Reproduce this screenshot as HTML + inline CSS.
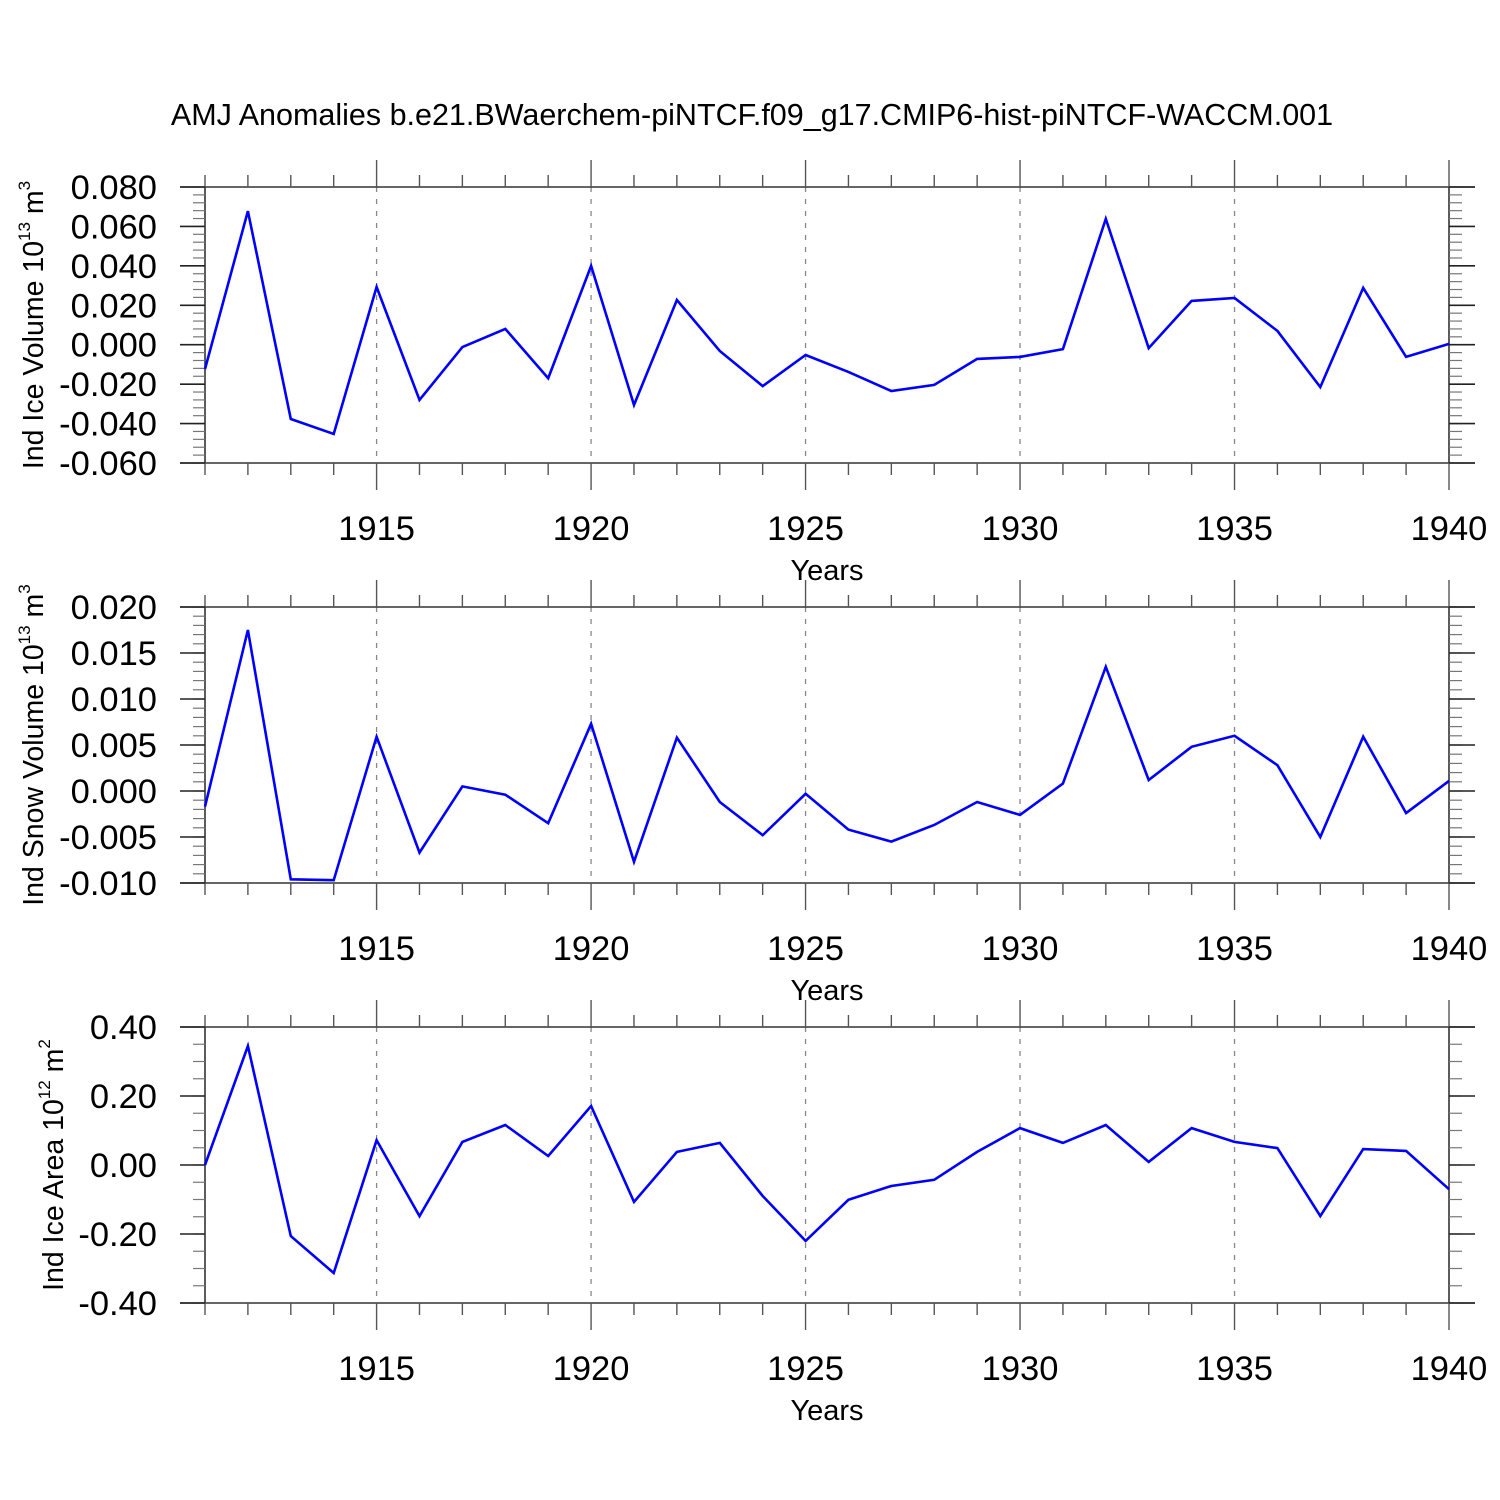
<!DOCTYPE html>
<html><head><meta charset="utf-8"><style>
html,body{margin:0;padding:0;background:#fff;width:1500px;height:1500px;overflow:hidden}
svg text{font-family:"Liberation Sans",sans-serif;fill:#000}
</style></head><body>
<svg id="chart" width="1500" height="1500" xmlns="http://www.w3.org/2000/svg">
<text x="752" y="125" font-size="30.5" text-anchor="middle">AMJ Anomalies b.e21.BWaerchem-piNTCF.f09_g17.CMIP6-hist-piNTCF-WACCM.001</text>
</svg>
<script>
const years = [1911,1912,1913,1914,1915,1916,1917,1918,1919,1920,1921,1922,1923,1924,1925,1926,1927,1928,1929,1930,1931,1932,1933,1934,1935,1936,1937,1938,1939,1940];
const iceVolume = [-0.0123,0.0678,-0.0377,-0.0453,0.0293,-0.028,-0.0012,0.008,-0.017,0.04,-0.0306,0.0227,-0.0032,-0.021,-0.0052,-0.0138,-0.0235,-0.0204,-0.0072,-0.0062,-0.0022,0.0638,-0.0017,0.0222,0.0237,0.007,-0.0215,0.0288,-0.0062,0.0004];
const snowVolume = [-0.0017,0.0175,-0.0096,-0.0097,0.0059,-0.0067,0.0005,-0.0004,-0.0035,0.0073,-0.0077,0.0058,-0.0012,-0.0048,-0.0003,-0.0042,-0.0055,-0.0037,-0.0012,-0.0026,0.0008,0.0135,0.0012,0.0048,0.006,0.0028,-0.005,0.0059,-0.0024,0.0011];
const iceArea = [0.0,0.345,-0.206,-0.313,0.072,-0.148,0.067,0.116,0.026,0.171,-0.107,0.038,0.064,-0.09,-0.22,-0.101,-0.061,-0.043,0.038,0.107,0.064,0.116,0.009,0.107,0.067,0.049,-0.148,0.046,0.041,-0.07];
const xTicks = [1915,1920,1925,1930,1935,1940];
const yTicks1 = [0.08,0.06,0.04,0.02,0,-0.02,-0.04,-0.06];
const yTicks2 = [0.02,0.015,0.01,0.005,0,-0.005,-0.01];
const yTicks3 = [0.4,0.2,0,-0.2,-0.4];

const NS='http://www.w3.org/2000/svg';
const svg=document.getElementById('chart');
function mk(tag,attrs,parent){const e=document.createElementNS(NS,tag);for(const k in attrs)e.setAttribute(k,attrs[k]);(parent||svg).appendChild(e);return e;}
const X0=205,X1=1449,XMIN=1911,XMAX=1940;
function xs(v){return X0+(v-XMIN)/(XMAX-XMIN)*(X1-X0);}

const panels=[
 {name:'ice-volume',top:187,ymax:0.08,ymin:-0.06,data:iceVolume,ticks:yTicks1,dec:3,minorStep:0.004,title:'Ind Ice Volume 10',sup:'13',unit:'m',usup:'3',tx:32},
 {name:'snow-volume',top:607,ymax:0.02,ymin:-0.01,data:snowVolume,ticks:yTicks2,dec:3,minorStep:0.001,title:'Ind Snow Volume 10',sup:'13',unit:'m',usup:'3',tx:32},
 {name:'ice-area',top:1027,ymax:0.4,ymin:-0.4,data:iceArea,ticks:yTicks3,dec:2,minorStep:0.05,title:'Ind Ice Area 10',sup:'12',unit:'m',usup:'2',tx:52}
];
panels.forEach(p=>{
 const T=p.top,B=T+276;
 const ys=v=>T+(p.ymax-v)/(p.ymax-p.ymin)*276;
 const g=mk('g',{});
 
 
 xTicks.forEach(t=>{if(t<XMAX){const l=mk('line',{x1:xs(t),x2:xs(t),y1:T,y2:B,stroke:'#888','stroke-width':1.3,'stroke-dasharray':'5,7'},g);
  
  }});
 const st={stroke:'#333','stroke-width':1.6};
 mk('line',Object.assign({x1:180,x2:1475,y1:T,y2:T},st),g);
 mk('line',Object.assign({x1:180,x2:1475,y1:B,y2:B},st),g);
 mk('line',Object.assign({x1:X0,x2:X0,y1:T,y2:B},st),g);
 mk('line',Object.assign({x1:X1,x2:X1,y1:T,y2:B},st),g);
 for(let yr=XMIN;yr<=XMAX;yr++){
  const maj=yr%5===0,len=maj?27:12,x=xs(yr);
  mk('line',{x1:x,x2:x,y1:T-len,y2:T,stroke:'#555','stroke-width':1.4},g);
  mk('line',{x1:x,x2:x,y1:B,y2:B+len,stroke:'#555','stroke-width':1.4},g);
 }
 const n=Math.round((p.ymax-p.ymin)/p.minorStep);
 for(let i=0;i<=n;i++){const v=p.ymin+i*p.minorStep,y=ys(v);
  mk('line',{x1:193,x2:X0,y1:y,y2:y,stroke:'#777','stroke-width':1.2},g);
  mk('line',{x1:X1,x2:1462,y1:y,y2:y,stroke:'#777','stroke-width':1.2},g);}
 p.ticks.forEach(v=>{const y=ys(v);
  mk('line',{x1:180,x2:X0,y1:y,y2:y,stroke:'#222','stroke-width':1.6},g);
  mk('line',{x1:X1,x2:1475,y1:y,y2:y,stroke:'#222','stroke-width':1.6},g);
  const t=mk('text',{x:157,y:y+12,'font-size':34.5,'text-anchor':'end'},g);
  
  
  t.textContent=v.toFixed(p.dec);});
 xTicks.forEach(v=>{const t=mk('text',{x:xs(v),y:B+77,'font-size':34.5,'text-anchor':'middle'},g);
  
  
  t.textContent=v;});
 const xt=mk('text',{x:827,y:B+117,'font-size':29,'text-anchor':'middle'},g);
 
 
 xt.textContent='Years';
 const yt=mk('text',{transform:`translate(${p.tx+11},${T+138}) rotate(-90)`,'font-size':28.5,'text-anchor':'middle'},g);
 
 
 const a=mk('tspan',{},yt);a.textContent=p.title;
 const b=mk('tspan',{'font-size':17,dy:-13},yt);b.textContent=p.sup;
 const c=mk('tspan',{dy:13},yt);c.textContent=' '+p.unit;
 const d=mk('tspan',{'font-size':17,dy:-13},yt);d.textContent=p.usup;
 const pts=p.data.map((v,i)=>xs(years[i]).toFixed(1)+','+ys(v).toFixed(1)).join(' ');
 const pl=mk('polyline',{points:pts,fill:'none',stroke:'#0000ff','stroke-width':2.6,'stroke-linejoin':'miter'},g);
 
 
});
</script>
</body></html>
